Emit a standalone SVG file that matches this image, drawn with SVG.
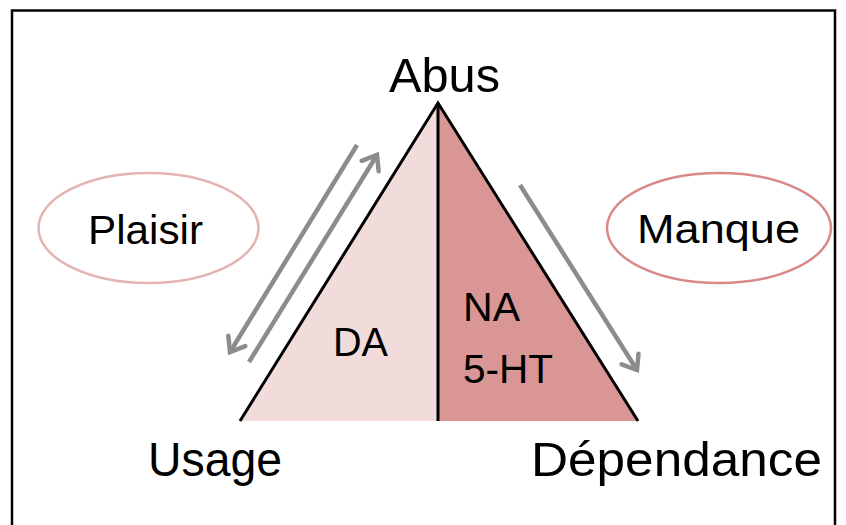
<svg xmlns="http://www.w3.org/2000/svg" width="846" height="525" viewBox="0 0 846 525">
  <defs>
    <marker id="chev" markerUnits="userSpaceOnUse" markerWidth="40" markerHeight="40" viewBox="-20 -20 40 40" refX="0" refY="0" orient="auto" overflow="visible">
      <path d="M-13,-10 L0,0 L-13,10" fill="none" stroke="#8c8c8c" stroke-width="4.5" stroke-linecap="round" stroke-linejoin="miter"/>
    </marker>
    <style>
      .lbl { font-family: "Liberation Sans", Arial, sans-serif; fill: #000; }
      .big { font-size: 49px; }
      .mid { font-size: 41px; }
      .arr { stroke: #8c8c8c; stroke-width: 4.5; fill: none; }
      .edge { stroke: #000; stroke-width: 3; fill: none; }
    </style>
  </defs>
  <rect x="0" y="0" width="846" height="525" fill="#ffffff"/>
  <path d="M12,525 L12,10.5 L835,10.5 L835,525" fill="none" stroke="#000" stroke-width="2.5"/>

  <g id="triangle">
    <polygon points="438,103 240,421 438,421" fill="#f2dcdb"/>
    <polygon points="438,103 638,421 438,421" fill="#d99694"/>
    <path class="edge" d="M240,421 L438,103 L638,421"/>
    <line class="edge" x1="438" y1="103" x2="438" y2="421"/>
    <text class="lbl mid" x="333" y="356" textLength="55" lengthAdjust="spacingAndGlyphs">DA</text>
    <text class="lbl mid" x="463" y="321" textLength="57" lengthAdjust="spacingAndGlyphs">NA</text>
    <text class="lbl mid" x="463" y="383" textLength="90" lengthAdjust="spacingAndGlyphs">5-HT</text>
  </g>

  <g id="abus">
    <text class="lbl big" x="389" y="92" textLength="111" lengthAdjust="spacingAndGlyphs">Abus</text>
  </g>
  <g id="usage">
    <text class="lbl big" x="148" y="476" textLength="134" lengthAdjust="spacingAndGlyphs">Usage</text>
  </g>
  <g id="dependance">
    <text class="lbl big" x="531" y="476" textLength="291" lengthAdjust="spacingAndGlyphs">Dépendance</text>
  </g>

  <g id="plaisir">
    <ellipse cx="148.5" cy="228" rx="110" ry="55" fill="none" stroke="#e3b4b3" stroke-width="2.5"/>
    <text class="lbl mid" x="88" y="244" textLength="115" lengthAdjust="spacingAndGlyphs">Plaisir</text>
  </g>
  <g id="manque">
    <ellipse cx="719" cy="228" rx="112" ry="55" fill="none" stroke="#d9898a" stroke-width="2.5"/>
    <text class="lbl mid" x="637" y="243" textLength="163" lengthAdjust="spacingAndGlyphs">Manque</text>
  </g>

  <g id="connectors">
    <line class="arr" x1="357" y1="145" x2="230" y2="352" marker-end="url(#chev)"/>
    <line class="arr" x1="249" y1="362" x2="377" y2="155" marker-end="url(#chev)"/>
    <line class="arr" x1="520" y1="185" x2="637" y2="370" marker-end="url(#chev)"/>
  </g>
</svg>
